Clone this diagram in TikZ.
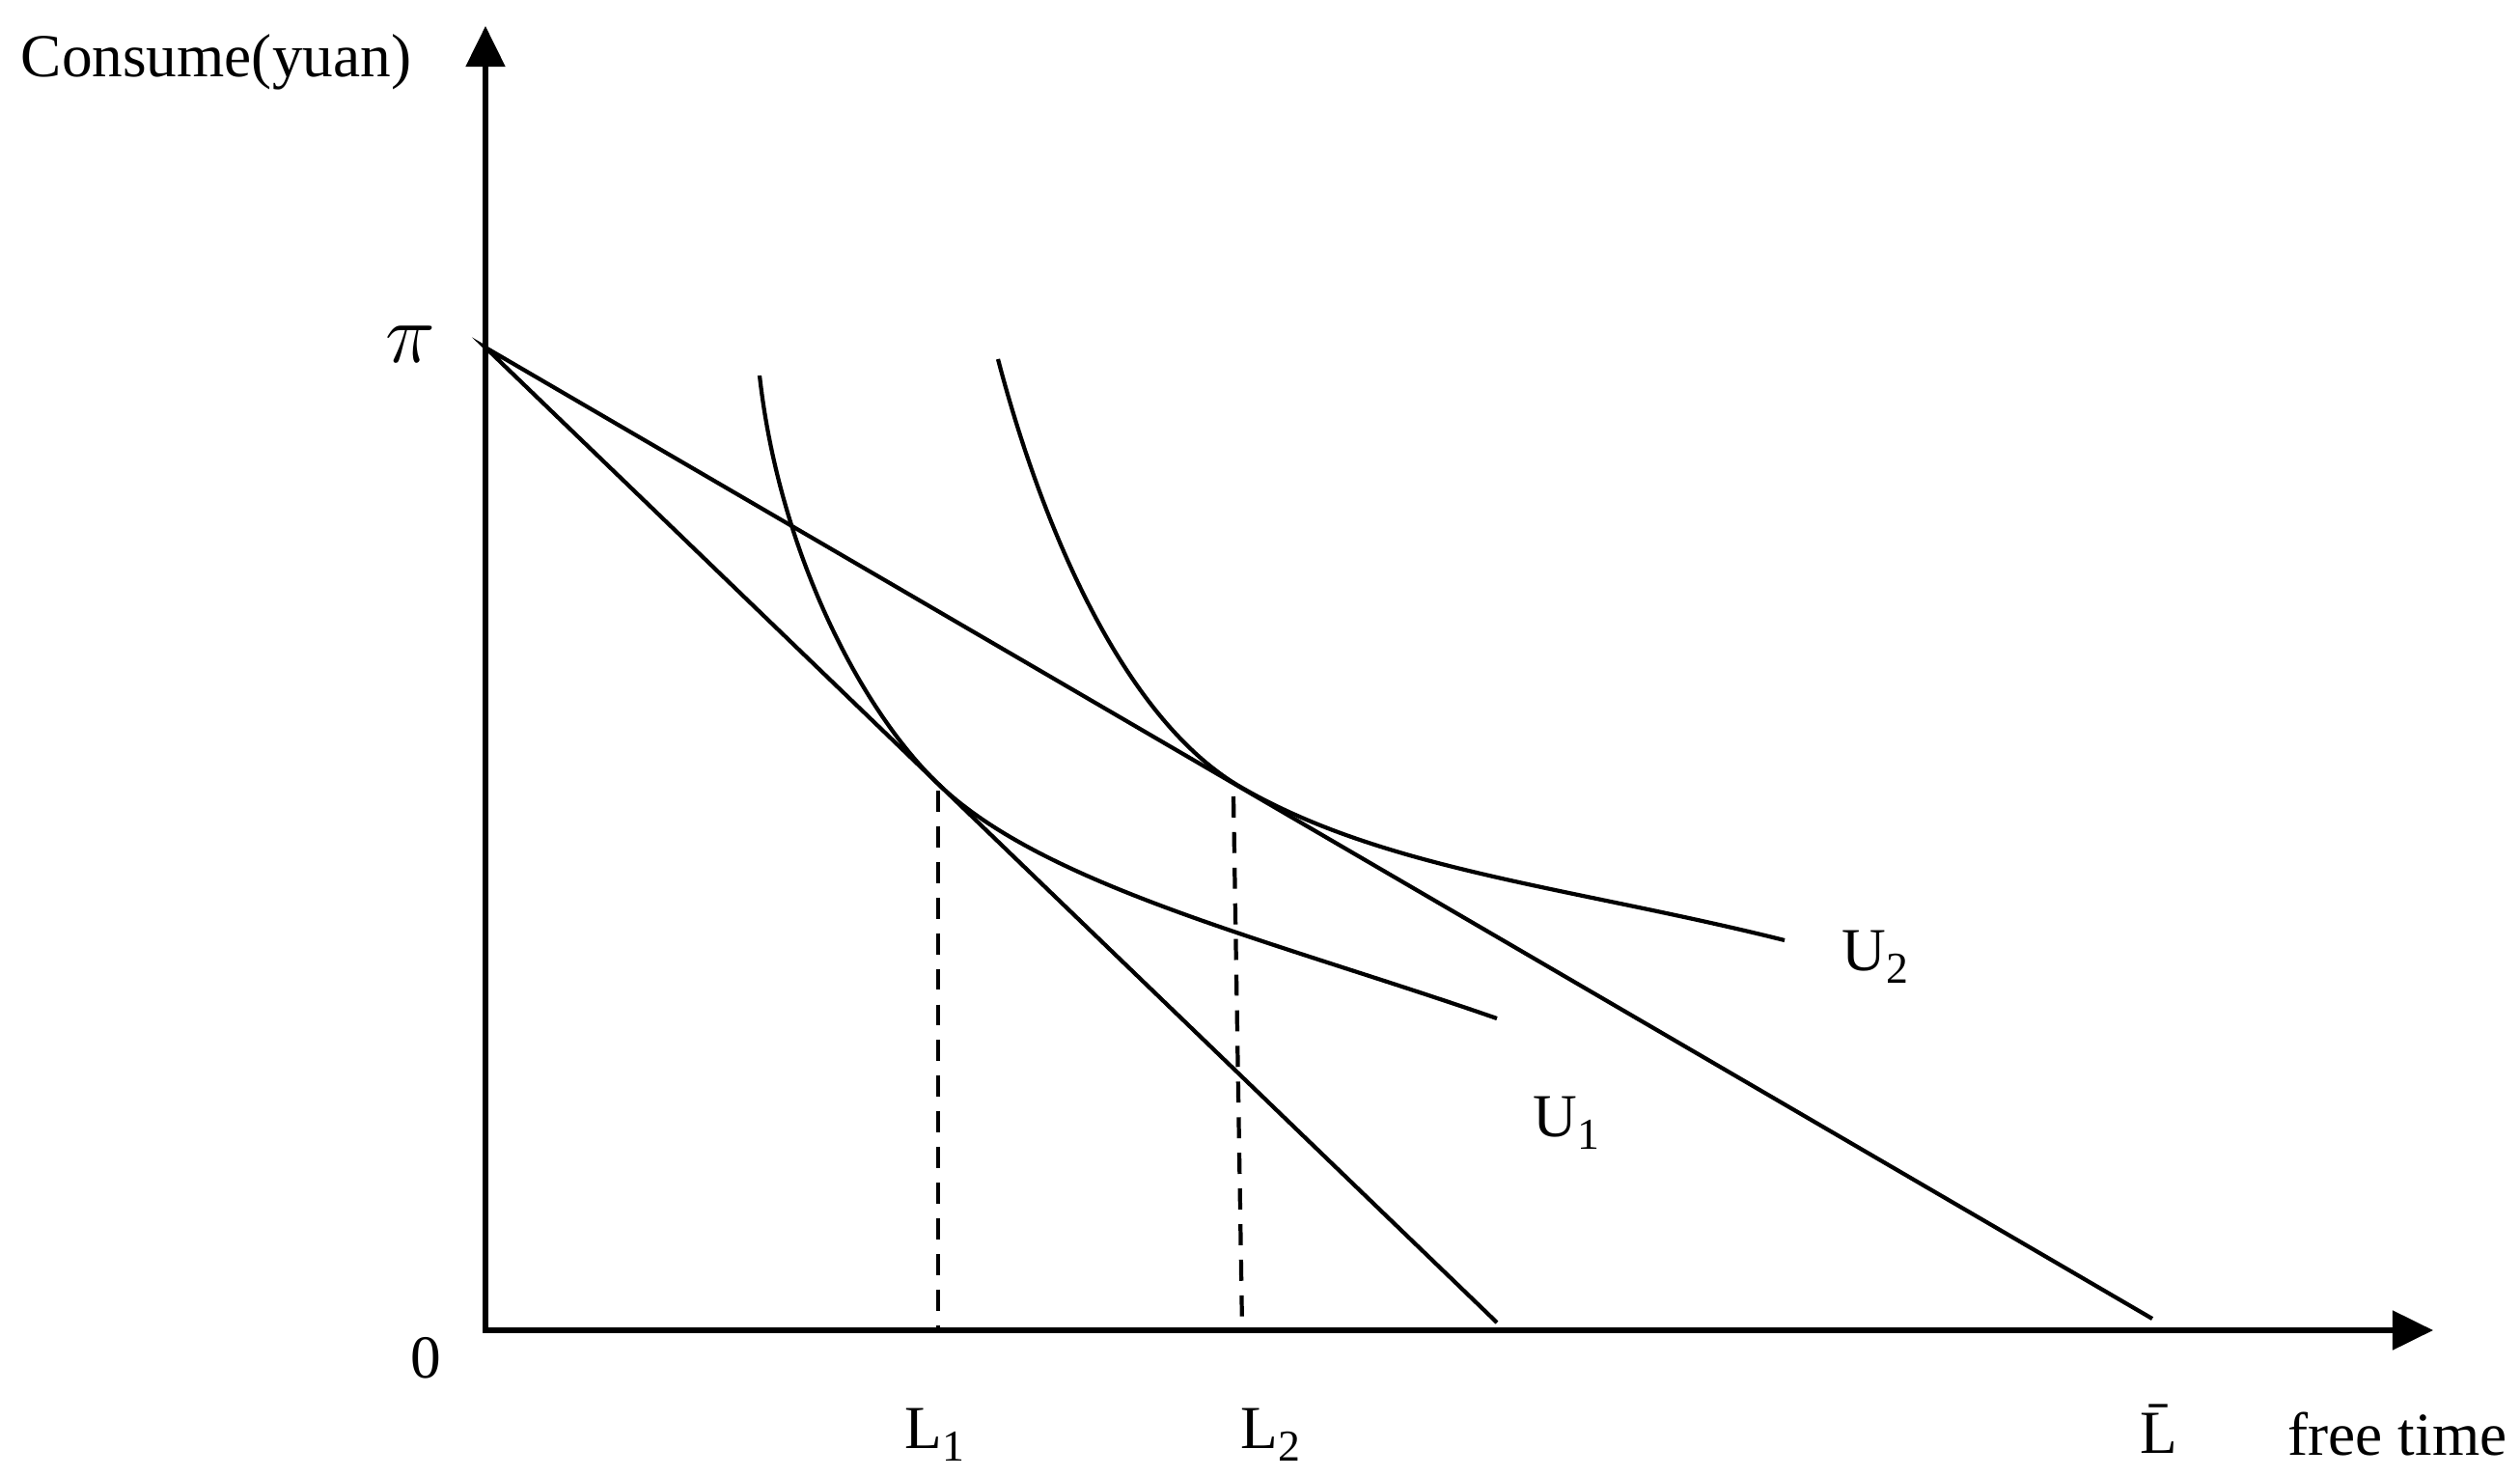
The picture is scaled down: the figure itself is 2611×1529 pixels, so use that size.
\documentclass[tikz,border=0pt]{standalone}
\usepackage{fontspec}
\setmainfont{Liberation Serif}
\usetikzlibrary{arrows.meta}

\newcommand{\lsub}[2]{#1\raisebox{-3.7pt}{\fontsize{13}{15}\selectfont #2}}

\begin{document}
\begin{tikzpicture}[x=0.01cm, y=0.01cm,
  axis/.style={line width=1.45pt, {Triangle[length=4.2mm, width=4mm]}-{Triangle[length=4.2mm, width=4mm]}},
  budget/.style={line width=1.2pt},
  indiff/.style={line width=1.2pt},
  guide/.style={line width=1.2pt, dash pattern=on 6.2pt off 4.3pt},
  lbl/.style={font=\fontsize{18}{22}\selectfont, inner sep=0pt}
]
  \useasboundingbox (0,0) rectangle (2611,1529);

  % axes
  \coordinate (O) at (503,151);
  \coordinate (ytop) at (503,1502);
  \coordinate (xend) at (2521,151);
  \draw[axis] (ytop) -- (O) -- (xend);

  % budget lines
  \coordinate (P) at (503,1169);
  \coordinate (B1) at (1551,159);
  \coordinate (B2) at (2230,163);
  \draw[budget] (B1) -- (P) -- (B2);

  % indifference curves
  \coordinate (T1) at (972,717);
  \coordinate (T2) at (1285,714);
  \coordinate (U1s) at (787,1140);
  \coordinate (U1e) at (1551,474);
  \coordinate (U2s) at (1034,1157);
  \coordinate (U2e) at (1849,555);
  \draw[indiff] (U1s) .. controls +(20,-180) and +(-82,79) .. (T1)
    .. controls +(110,-106) and +(-230,80) .. (U1e);
  \draw[indiff] (U2s) .. controls +(50,-190) and +(-115,67) .. (T2)
    .. controls +(150,-87) and +(-220,55) .. (U2e);

  % dashed guides
  \coordinate (D1t) at (972,710);
  \coordinate (D1b) at (972,153);
  \coordinate (D2t) at (1278,704);
  \coordinate (D2b) at (1287,153);
  \draw[guide] (D1t) -- (D1b);
  \draw[guide] (D2t) -- (D2b);

  % labels
  \node[lbl] (ylab) at (224,1465) {Consume(yuan)};
  \node[lbl, font=\fontsize{23}{26}\selectfont] (pi) at (425,1172) {$\pi$};
  \node[lbl, anchor=base west] (zero) at (425,102) {0};
  \node[lbl, anchor=base west] (l1) at (937,29) {\lsub{L}{1}};
  \node[lbl, anchor=base west] (l2) at (1285,29) {\lsub{L}{2}};
  \node[lbl, anchor=base west] (lbar) at (2217,24) {\={L}};
  \node[lbl, anchor=base west] (xlab) at (2370,22) {free time};
  \node[lbl, anchor=base west] (u1) at (1588,352) {\lsub{U}{1}};
  \node[lbl, anchor=base west] (u2) at (1908,524) {\lsub{U}{2}};
\end{tikzpicture}
\end{document}
